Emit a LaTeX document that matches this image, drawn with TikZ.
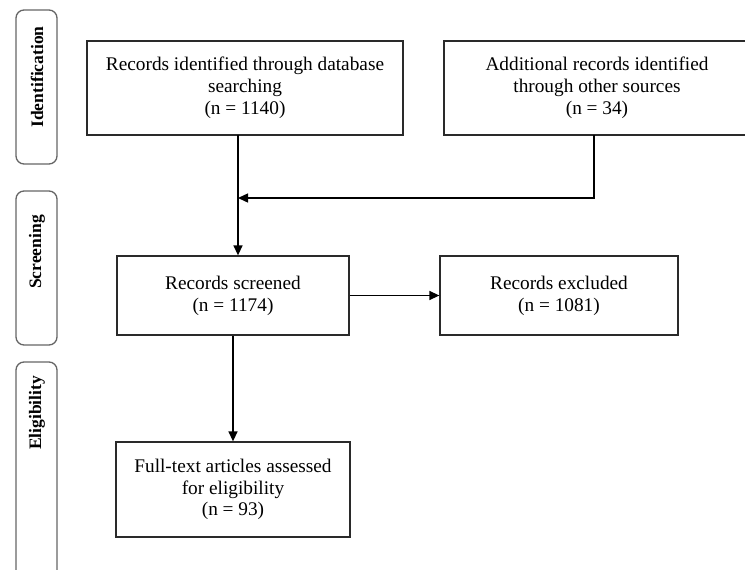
\documentclass[tikz,border=0pt]{standalone}
\usepackage{fontspec}
\setmainfont{Liberation Serif}
\usetikzlibrary{arrows.meta}
\definecolor{boxline}{HTML}{2A2A2A}
\definecolor{phaseline}{HTML}{666666}
\tikzset{
  flowbox/.style={draw=boxline, line width=1.3pt, align=center, inner sep=0pt,
    font=\fontsize{19.3}{21.8}\selectfont},
  phasebox/.style={draw=phaseline, line width=1.3pt, rounded corners=8pt,
    minimum width=41pt, inner sep=0pt},
  phaselabel/.style={rotate=90, font=\fontsize{17.5}{20}\selectfont\bfseries},
  flowarrow/.style={draw=black, line width=1.4pt, -{Triangle[length=10pt,width=9pt]}},
  flowline/.style={draw=black, line width=1.4pt}
}
\begin{document}
\begin{tikzpicture}[x=1pt,y=-1pt]
\useasboundingbox (0,0) rectangle (745,570);
\clip (0,0) rectangle (745,570);
\fill[white] (0,0) rectangle (745,570);

% phase bands on the left
\node[phasebox, minimum height=154pt] (pid) at (36.5,87) {};
\node[phasebox, minimum height=154pt] (pscr) at (36.5,268) {};
\node[phasebox, minimum height=250pt] (pel) at (36.5,487) {};
\node[phaselabel] (lid) at (37,77) {Identification};
\node[phaselabel] (lscr) at (37,252) {Screening};
\node[phaselabel] (lel) at (37,413) {Eligibility};

% flow boxes
\node[flowbox, minimum width=316pt, minimum height=94pt] (db) at (245,88)
  {Records identified through database\\searching\\(n = 1140)};
\node[flowbox, minimum width=306pt, minimum height=94pt] (other) at (597,88)
  {Additional records identified\\through other sources\\(n = 34)};
\node[flowbox, minimum width=232pt, minimum height=79pt] (screened) at (233,295.5)
  {Records screened\\(n = 1174)};
\node[flowbox, minimum width=238pt, minimum height=79pt] (excluded) at (559,295.5)
  {Records excluded\\(n = 1081)};
\node[flowbox, minimum width=234pt, minimum height=95pt] (full) at (233,489.5)
  {Full-text articles assessed\\for eligibility\\(n = 93)};

% connectors
\coordinate (dbout) at (238,135);
\coordinate (merge) at (238,198);
\coordinate (otherout) at (594,135);
\draw[flowarrow] (dbout) -- (dbout |- screened.north);
\draw[flowline] (otherout) -- (otherout |- merge) -- ([xshift=6pt]merge);
\draw[flowarrow] ([xshift=12pt]merge) -- (merge);
\draw[flowarrow] (screened.east) -- (excluded.west);
\draw[flowarrow] (screened.south) -- (full.north);
\end{tikzpicture}
\end{document}
